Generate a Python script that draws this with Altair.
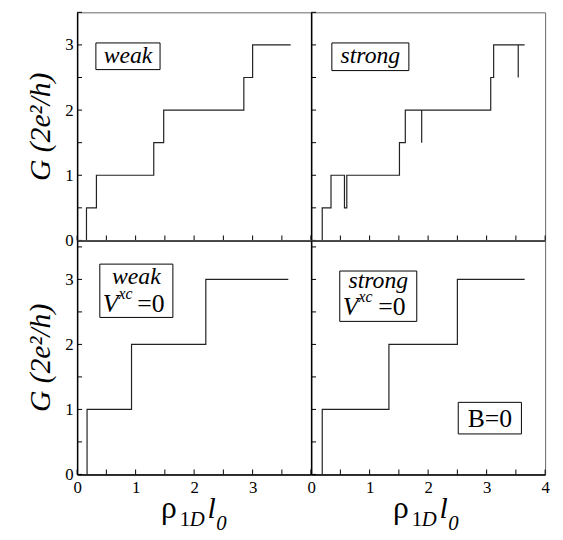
import altair as alt
import pandas as pd

# ---- data ----
weak_x = [0.16, 0.16, 0.33, 1.31, 1.48, 2.85, 3.00, 3.65]
weak_g = [0.0, 0.5, 1.0, 1.5, 2.0, 2.5, 3.0, 3.0]
strong_x = [0.19, 0.19, 0.34, 0.57, 0.61, 1.51, 1.61, 1.89, 1.89, 3.07, 3.12, 3.54, 3.54, 3.65]
strong_g = [0.0, 0.5, 1.0, 0.5, 1.0, 1.5, 2.0, 1.5, 2.0, 2.5, 3.0, 2.5, 3.0, 3.0]
weak0_x = [0.17, 0.17, 0.93, 2.20, 3.61]
weak0_g = [0.0, 1.0, 2.0, 3.0, 3.0]
strong0_x = [0.19, 0.19, 1.33, 2.50, 3.65]
strong0_g = [0.0, 1.0, 2.0, 3.0, 3.0]

x_minor = [0, 0.5, 1, 1.5, 2, 2.5, 3, 3.5, 4]
y_minor = [0, 0.5, 1, 1.5, 2, 2.5, 3, 3.5]
x_labels_left = [0, 1, 2, 3]
x_labels_right = [0, 1, 2, 3, 4]
y_labels = [0, 1, 2, 3]

SERIF = "Liberation Serif"
W = 237
H_TOP = 231
H_BOT = 237
one = alt.Data(values=[{"a": 1}])


def txt(s, x, y, size, style="normal", align="left"):
    return alt.Chart(one).mark_text(
        text=s, font=SERIF, fontSize=size, fontStyle=style, align=align,
        baseline="alphabetic", color="black"
    ).encode(x=alt.value(x), y=alt.value(y))


def box(x1, x2, y1, y2):
    return alt.Chart(one).mark_rect(fill="white", stroke="black", strokeWidth=1).encode(
        x=alt.value(x1), x2=alt.value(x2), y=alt.value(y1), y2=alt.value(y2))


def panel(xs_, gs_, ydom, h, top, left, extras):
    df = pd.DataFrame({"x": xs_, "g": gs_, "i": list(range(len(xs_)))})
    xs = alt.Scale(domain=[0, 4], nice=False, zero=False)
    ys = alt.Scale(domain=ydom, nice=False, zero=False)
    x_axis = alt.Axis(
        values=x_labels_left if left else x_labels_right,
        labels=not top, title=None, ticks=False, grid=False,
        domainColor="black", domainWidth=1.5, labelFlush=False,
        labelFont=SERIF, labelFontSize=17, labelColor="black", labelPadding=5)
    y_axis = alt.Axis(
        values=y_labels, labels=left,
        title="G (2e²/h)" if left else None,
        titleFont=SERIF, titleFontSize=30, titleFontStyle="italic",
        titleFontWeight="normal", titleColor="black", titlePadding=9,
        ticks=False, grid=False, domainColor="black", domainWidth=1.5,
        labelFlush=False, labelFont=SERIF, labelFontSize=17,
        labelColor="black", labelPadding=4)
    line = alt.Chart(df).mark_line(interpolate="step-after", color="#222",
                                   strokeWidth=1.2).encode(
        x=alt.X("x:Q", scale=xs, axis=x_axis),
        y=alt.Y("g:Q", scale=ys, axis=y_axis),
        order=alt.Order("i:Q"))
    xt = alt.Chart(pd.DataFrame({"t": x_minor})).mark_rule(color="black", strokeWidth=1).encode(
        x=alt.X("t:Q", scale=xs, axis=x_axis), y=alt.value(h), y2=alt.value(h - 5))
    yt = alt.Chart(pd.DataFrame({"t": y_minor})).mark_rule(color="black", strokeWidth=1).encode(
        y=alt.Y("t:Q", scale=ys, axis=y_axis), x=alt.value(0), x2=alt.value(5))
    return alt.layer(line, xt, yt, *extras).properties(width=W, height=h)


def xtitle(h, x0):
    return [
        txt("ρ", x0, h + 44, 32),
        txt("1", x0 + 19, h + 52, 21),
        txt("D", x0 + 29, h + 52, 21, "italic"),
        txt("l", x0 + 47, h + 44, 30, "italic"),
        txt("0", x0 + 56, h + 56, 21, "italic"),
    ]


tl = panel(weak_x, weak_g, [0, 3.5], H_TOP, True, True, [
    box(19, 84, 31, 58), txt("weak", 51.5, 51, 24, "italic", "center")])
tr = panel(strong_x, strong_g, [0, 3.5], H_TOP, True, False, [
    box(21, 99, 31, 59), txt("strong", 60, 51, 24, "italic", "center")])
bl = panel(weak0_x, weak0_g, [0, 3.6], H_BOT, False, True, [
    box(23, 97, 24, 78),
    txt("weak", 60, 44, 24, "italic", "center"),
    txt("V", 26, 73, 26, "italic"),
    txt("xc", 42, 59, 16, "italic"),
    txt("=0", 61, 73, 26),
] + xtitle(H_BOT, 85))
br = panel(strong0_x, strong0_g, [0, 3.6], H_BOT, False, False, [
    box(29, 107, 31, 82),
    txt("strong", 68, 48, 24, "italic", "center"),
    txt("V", 32, 76, 26, "italic"),
    txt("xc", 48, 62, 16, "italic"),
    txt("=0", 68, 76, 26),
    box(149, 213, 164, 196),
    txt("B=0", 181, 189, 26, "normal", "center"),
] + xtitle(H_BOT, 83))

chart = alt.concat(tl, tr, bl, br, columns=2, spacing=0, bounds="flush").properties(
    padding={"left": 18, "top": 0, "right": 5, "bottom": 0}, background="white"
).configure_view(stroke="#666", strokeWidth=1)

chart.save("out.html", embed_options={"renderer": "svg", "actions": False})
